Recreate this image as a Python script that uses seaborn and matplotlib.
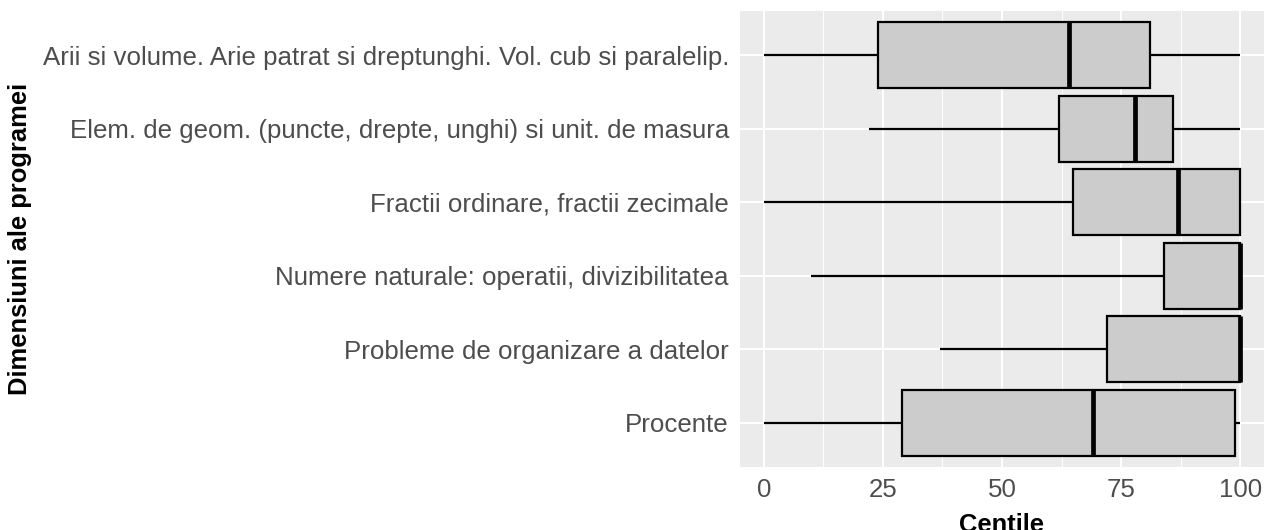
import numpy as np
import pandas as pd
import matplotlib
matplotlib.use("Agg")
import matplotlib.pyplot as plt
import seaborn as sns

# Dimensiuni ale programei (de sus in jos)
dimensiuni = [
    "Arii si volume. Arie patrat si dreptunghi. Vol. cub si paralelip.",
    "Elem. de geom. (puncte, drepte, unghi) si unit. de masura",
    "Fractii ordinare, fractii zecimale",
    "Numere naturale: operatii, divizibilitatea",
    "Probleme de organizare a datelor",
    "Procente",
]
# statistici pe centile
minim = [0, 22, 0, 10, 37, 0]
q1 = [24, 62, 65, 84, 72, 29]
mediana = [64, 78, 87, 100, 100, 69]
q3 = [81, 86, 100, 100, 100, 99]
maxim = [100, 100, 100, 100, 100, 100]

rows = []
for i, d in enumerate(dimensiuni):
    for v in (minim[i], q1[i], mediana[i], q3[i], maxim[i]):
        rows.append({"Dimensiune": d, "Centile": v})
df = pd.DataFrame(rows)

sns.set_theme(style="darkgrid", rc={
    "axes.facecolor": "#EBEBEB",
    "grid.color": "white",
    "axes.edgecolor": "#EBEBEB",
})
plt.rcParams["font.family"] = ["Liberation Sans", "DejaVu Sans"]

fig, ax = plt.subplots(figsize=(12.65, 5.3), dpi=100)
fig.subplots_adjust(left=740 / 1265, right=1264 / 1265, top=1 - 11 / 530, bottom=1 - 467 / 530)

sns.boxplot(data=df, x="Centile", y="Dimensiune", order=dimensiuni, orient="h",
            whis=(0, 100), width=0.9, color="#CCCCCC", saturation=1,
            linecolor="black", linewidth=1.6, showcaps=False, fliersize=0,
            medianprops={"linewidth": 3.4, "color": "black"}, ax=ax)

ax.set_xlim(-5, 105)
ax.set_ylim(5.6, -0.6)
ax.set_xticks([0, 25, 50, 75, 100])
ax.set_xticks([12.5, 37.5, 62.5, 87.5], minor=True)
ax.grid(which="major", color="white", linewidth=1.5)
ax.grid(which="minor", axis="x", color="white", linewidth=0.7)
ax.set_axisbelow(True)
for s in ax.spines.values():
    s.set_visible(False)

ax.tick_params(axis="both", which="major", length=5, width=1.1, color="#333333",
               labelcolor="#4D4D4D", labelsize=18.6, pad=3)
ax.tick_params(which="minor", length=0)

ax.set_xlabel("Centile", fontsize=18.4, fontweight="bold", color="black")
ax.set_ylabel("Dimensiuni ale programei", fontsize=18.4, fontweight="bold", color="black", va="center")
ax.xaxis.set_label_coords(0.5, -0.1)
ax.yaxis.set_label_coords((20 - 740) / 524, 0.5)

fig.savefig("out.png", dpi=100)
